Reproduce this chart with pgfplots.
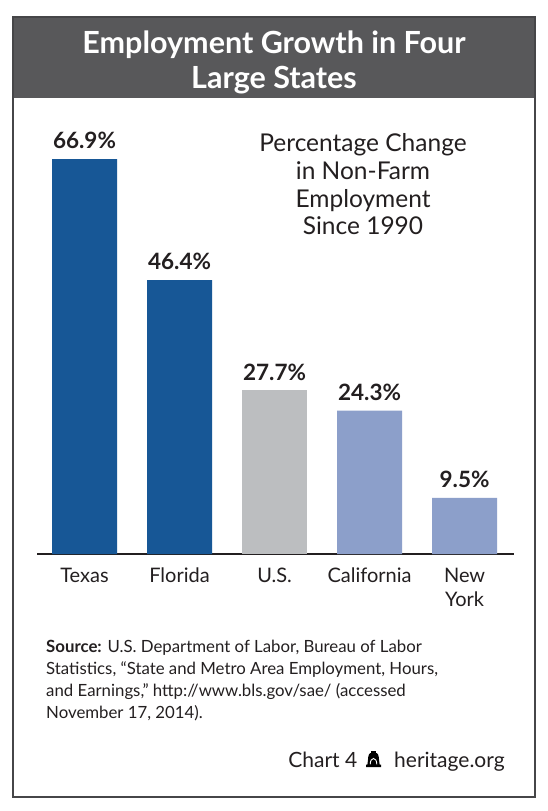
\documentclass[border=0pt]{standalone}
\usepackage{fontspec}
\setmainfont{Lato}
\setsansfont{Lato}
\usepackage{pgfplots}
\pgfplotsset{compat=1.18}
\definecolor{darkblue}{RGB}{23,87,150}
\definecolor{usgray}{RGB}{188,190,192}
\definecolor{lightblue}{RGB}{140,159,202}
\definecolor{bandgray}{RGB}{88,88,90}
\definecolor{framegray}{RGB}{70,70,72}
\definecolor{textdark}{RGB}{35,31,32}
\begin{document}
\begin{tikzpicture}
\path[use as bounding box] (0pt,0pt) rectangle (548pt,-811pt);
\fill[white] (0pt,0pt) rectangle (548pt,-811pt);
\fill[bandgray] (12.7pt,-17pt) rectangle (535pt,-98pt);
\draw[framegray, line width=2pt] (12.7pt,-17pt) rectangle (535pt,-797pt);
% title
\node[text=white, font=\bfseries\fontsize{30.5}{35}\selectfont, anchor=base, inner sep=0pt] at (274pt,-53pt) {Employment Growth in Four};
\node[text=white, font=\bfseries\fontsize{30.5}{35}\selectfont, anchor=base, inner sep=0pt] at (274pt,-88pt) {Large States};
% annotation
\begin{scope}[every node/.style={text=textdark, font=\fontsize{24.5}{28}\selectfont, anchor=base, inner sep=0pt}]
\node at (363pt,-151pt) {Percentage Change};
\node at (363pt,-179pt) {in Non-Farm};
\node at (363pt,-207pt) {Employment};
\node at (363pt,-234pt) {Since 1990};
\end{scope}
\begin{axis}[
  at={(37pt,-554pt)}, anchor=south west, scale only axis,
  width=477pt, height=413.3pt,
  xmin=-0.5, xmax=4.52, ymin=0, ymax=70,
  hide y axis,
  axis x line=bottom,
  x axis line style={-, line width=1.2pt, color=textdark},
  xtick={0,1,2,3,4},
  xticklabels={Texas,Florida,U.S.,California,{New\\York}},
  xticklabel style={align=center, font=\fontsize{20}{24}\selectfont, text=textdark, inner sep=0pt, anchor=north, yshift=-14pt},
  major tick length=0pt, tick style={draw=none},
  ybar, bar width=65pt,
  /pgf/number format/assume math mode=true,
  nodes near coords={\pgfmathprintnumber[fixed,fixed zerofill,precision=1]{\pgfplotspointmeta}\%},
  every node near coord/.append style={font=\bfseries\fontsize{22.5}{26}\selectfont, text=textdark, anchor=south, inner sep=0pt, yshift=10pt},
  clip=false
]
\addplot[fill=darkblue, draw=none, bar shift=0pt] coordinates {(0,66.9) (1,46.4)};
\addplot[fill=usgray, draw=none, bar shift=0pt] coordinates {(2,27.7)};
\addplot[fill=lightblue, draw=none, bar shift=0pt] coordinates {(3,24.3) (4,9.5)};
\end{axis}
% source
\begin{scope}[every node/.style={text=textdark, font=\fontsize{16.8}{22}\selectfont, anchor=base west, inner sep=0pt}]
\node at (46pt,-652pt) {\textbf{Source:} U.S. Department of Labor, Bureau of Labor};
\node at (46pt,-674pt) {Statistics, “State and Metro Area Employment, Hours,};
\node at (46pt,-696pt) {and Earnings,” http://www.bls.gov/sae/ (accessed};
\node at (46pt,-718pt) {November 17, 2014).};
\end{scope}
% footer
\node[text=textdark, font=\fontsize{21}{26}\selectfont, anchor=base west, inner sep=0pt] at (394pt,-767pt) {heritage.org};
\node[text=textdark, font=\fontsize{21}{26}\selectfont, anchor=base east, inner sep=0pt] at (357.5pt,-767pt) {Chart 4};
% bell icon
\begin{scope}[shift={(366pt,-767pt)}]
\fill[black] (0pt,0pt) -- (15pt,0pt) -- (15pt,2.5pt) -- (13.6pt,2.5pt)
  .. controls (12.6pt,8pt) and (13.4pt,13pt) .. (10.5pt,14pt) -- (4.5pt,14pt)
  .. controls (1.6pt,13pt) and (2.4pt,8pt) .. (1.4pt,2.5pt) -- (0pt,2.5pt) -- cycle;
\fill[black] (5pt,13.5pt) rectangle (10pt,16.5pt);
\draw[white, line width=0.9pt] (4.2pt,2.6pt) .. controls (4.2pt,10.5pt) and (10.8pt,10.5pt) .. (10.8pt,2.6pt);
\end{scope}
\end{tikzpicture}
\end{document}
